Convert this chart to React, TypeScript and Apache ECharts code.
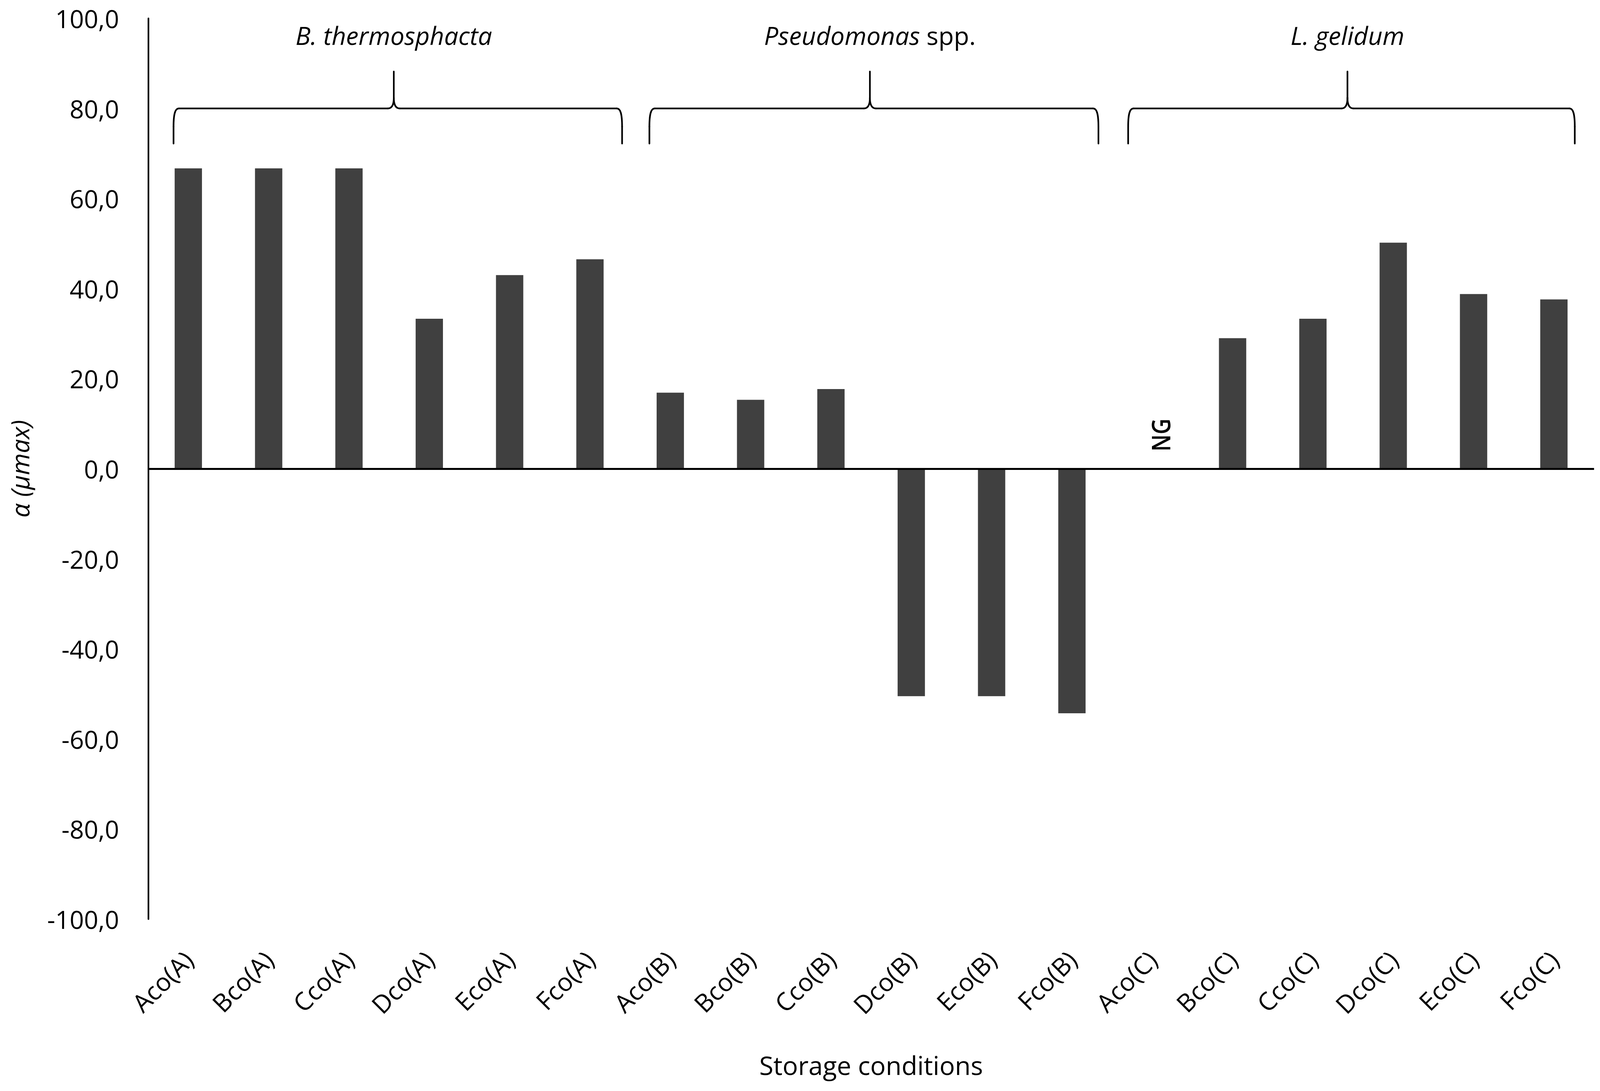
import React, { useEffect, useRef } from 'react';
import * as echarts from 'echarts';

const categories = [
  'Aco(A)', 'Bco(A)', 'Cco(A)', 'Dco(A)', 'Eco(A)', 'Fco(A)',
  'Aco(B)', 'Bco(B)', 'Cco(B)', 'Dco(B)', 'Eco(B)', 'Fco(B)',
  'Aco(C)', 'Bco(C)', 'Cco(C)', 'Dco(C)', 'Eco(C)', 'Fco(C)',
];
const values: (number | null)[] = [
  66.7, 66.7, 66.7, 33.3, 43.0, 46.5,
  16.9, 15.3, 17.7, -50.5, -50.5, -54.3,
  null, 29.0, 33.3, 50.2, 38.8, 37.6,
];
const yMin = -100;
const yMax = 100;
const yInterval = 20;
const groupLabels = ['{i|B. thermosphacta}', '{i|Pseudomonas} spp.', '{i|L. gelidum}'];
const ngIndex = 12;
const ngLabel = 'NG';
const yAxisName = 'α (μmax)';
const xAxisName = 'Storage conditions';

// brace extents, in category-index units (layout only)
const BRACE_FROM = [0.316, 6.24, 12.2];
const BRACE_TO = [5.9, 11.83, 17.76];

const FONT = 'Open Sans';
const BAR = '#404040';
const BASE_W = 4849;
const BASE_H = 2793;

function braceElements(xl: number, xr: number, xm: number, yLine: number, yTip: number, yEnd: number, s: number) {
  const st = { stroke: '#000', lineWidth: 5 * s, fill: 'none', lineCap: 'round' as const };
  const rEnd = 16 * s, hEnd = 55 * s, rTip = 18 * s, hTip = 32 * s;
  const els: any[] = [];
  els.push({ type: 'line', shape: { x1: xl, y1: yEnd, x2: xl, y2: yLine + hEnd }, style: st, silent: true });
  els.push({ type: 'bezierCurve', shape: { x1: xl, y1: yLine + hEnd, cpx1: xl, cpy1: yLine + hEnd * 0.25, cpx2: xl + rEnd * 0.35, cpy2: yLine, x2: xl + rEnd, y2: yLine }, style: st, silent: true });
  els.push({ type: 'line', shape: { x1: xr, y1: yEnd, x2: xr, y2: yLine + hEnd }, style: st, silent: true });
  els.push({ type: 'bezierCurve', shape: { x1: xr, y1: yLine + hEnd, cpx1: xr, cpy1: yLine + hEnd * 0.25, cpx2: xr - rEnd * 0.35, cpy2: yLine, x2: xr - rEnd, y2: yLine }, style: st, silent: true });
  els.push({ type: 'line', shape: { x1: xl + rEnd, y1: yLine, x2: xm - rTip, y2: yLine }, style: st, silent: true });
  els.push({ type: 'line', shape: { x1: xm + rTip, y1: yLine, x2: xr - rEnd, y2: yLine }, style: st, silent: true });
  els.push({ type: 'bezierCurve', shape: { x1: xm - rTip, y1: yLine, cpx1: xm - rTip * 0.3, cpy1: yLine, cpx2: xm, cpy2: yLine - hTip * 0.4, x2: xm, y2: yLine - hTip }, style: st, silent: true });
  els.push({ type: 'bezierCurve', shape: { x1: xm + rTip, y1: yLine, cpx1: xm + rTip * 0.3, cpy1: yLine, cpx2: xm, cpy2: yLine - hTip * 0.4, x2: xm, y2: yLine - hTip }, style: st, silent: true });
  els.push({ type: 'line', shape: { x1: xm, y1: yLine - hTip, x2: xm, y2: yTip }, style: st, silent: true });
  return els;
}

export default function App() {
  const ref = useRef<HTMLDivElement>(null);
  useEffect(() => {
    document.body.style.margin = '0';
    document.body.style.overflow = 'hidden';
    const el = ref.current!;
    const W = window.innerWidth || BASE_W;
    const H = window.innerHeight || BASE_H;
    el.style.width = W + 'px';
    el.style.height = H + 'px';
    const sx = W / BASE_W;
    const sy = H / BASE_H;
    const s = Math.min(sx, sy);
    const chart = echarts.init(el, undefined, { renderer: 'svg', width: W, height: H });
    const option: any = {
      animation: false,
      backgroundColor: '#fff',
      grid: { left: 449 * sx, right: 18 * sx, top: 47 * sy, bottom: 440 * sy, containLabel: false },
      xAxis: {
        type: 'category',
        data: categories,
        axisLine: { show: false, onZero: false },
        axisTick: { show: false },
        axisLabel: { rotate: 45, margin: 92 * sy, fontSize: 76 * s, fontFamily: FONT, color: '#000', interval: 0 },
        name: xAxisName,
        nameLocation: 'middle',
        nameGap: 340 * sy,
        nameTextStyle: { fontSize: 78 * s, fontFamily: FONT, color: '#000' },
      },
      yAxis: {
        type: 'value',
        min: yMin,
        max: yMax,
        interval: yInterval,
        axisLine: { show: true, lineStyle: { color: '#000', width: 5 * s } },
        axisTick: { show: false },
        splitLine: { show: false },
        axisLabel: {
          margin: 88 * sx,
          fontSize: 76 * s,
          fontFamily: FONT,
          color: '#000',
          formatter: (v: number) => v.toFixed(1).replace('.', ','),
        },
        name: yAxisName,
        nameLocation: 'middle',
        nameGap: 352 * sx,
        nameTextStyle: { fontSize: 76 * s, fontFamily: FONT, fontStyle: 'italic', color: '#000' },
      },
      series: [
        {
          type: 'bar',
          data: values,
          barWidth: '34%',
          itemStyle: { color: BAR },
          markLine: {
            silent: true,
            symbol: ['none', 'none'],
            label: { show: false },
            lineStyle: { color: '#000', width: 6 * s, type: 'solid' },
            data: [{ yAxis: 0 }],
          },
        },
      ],
    };
    chart.setOption(option);

    const px = (i: number, v: number) => chart.convertToPixel({ xAxisIndex: 0, yAxisIndex: 0 }, [categories[i], v]) as number[];
    const p0 = px(0, 0);
    const p1 = px(1, 0);
    const step = p1[0] - p0[0];
    const xAt = (pos: number) => p0[0] + (pos - 0.5) * step;
    const yAt = (v: number) => (chart.convertToPixel({ yAxisIndex: 0 }, v) as number);

    const elements: any[] = [];
    groupLabels.forEach((lab, k) => {
      const xl = xAt(BRACE_FROM[k]);
      const xr = xAt(BRACE_TO[k]);
      const xm = xAt((BRACE_FROM[k] + BRACE_TO[k]) / 2 - 0.05);
      elements.push(...braceElements(xl, xr, xm, yAt(80), yAt(88.2), yAt(72.2), s));
      elements.push({
        type: 'text',
        x: xm,
        y: yAt(96.3),
        silent: true,
        style: {
          text: lab,
          fontSize: 76 * s,
          fontFamily: FONT,
          fill: '#000',
          align: 'center',
          verticalAlign: 'middle',
          rich: { i: { fontSize: 76 * s, fontFamily: FONT, fontStyle: 'italic', fill: '#000' } },
        },
      });
    });
    elements.push({
      type: 'text',
      x: xAt(ngIndex + 0.6),
      y: yAt(7.5),
      rotation: Math.PI / 2,
      scaleX: 0.85,
      silent: true,
      style: {
        text: ngLabel,
        fontSize: 78 * s,
        fontWeight: 600,
        fontFamily: FONT,
        fill: '#000',
        align: 'center',
        verticalAlign: 'middle',
      },
    });
    chart.setOption({ graphic: { elements } });
    return () => chart.dispose();
  }, []);
  return <div ref={ref} style={{ width: '100vw', height: '100vh' }} />;
}
